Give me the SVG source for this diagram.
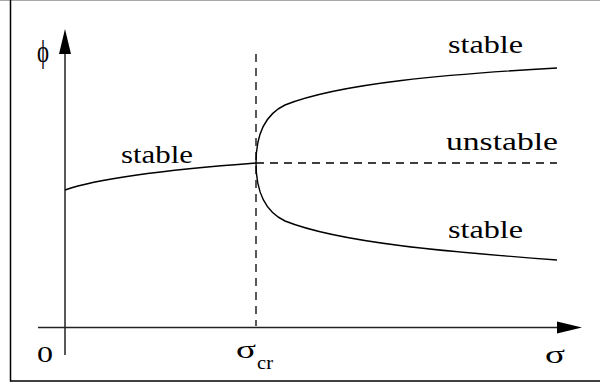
<svg xmlns="http://www.w3.org/2000/svg" width="600" height="383" viewBox="0 0 600 383">
<style>
.t{font-family:'Liberation Serif','Times New Roman','DejaVu Serif',serif;font-size:25px;fill:#000}
.ax{stroke:#222;stroke-width:1.5;fill:none}
.c{stroke:#000;stroke-width:1.4;fill:none}
.d{stroke:#000;stroke-width:1.3;fill:none;stroke-dasharray:8 6}
</style>
<rect x="0" y="0" width="600" height="383" fill="#fff"/>
<g id="frame">
<line x1="0" y1="0.5" x2="600" y2="0.5" stroke="#aaa" stroke-width="1"/>
<line x1="10.5" y1="0" x2="10.5" y2="381.5" stroke="#000" stroke-width="1.5"/>
<line x1="10" y1="381" x2="600" y2="381" stroke="#000" stroke-width="1.5"/>
</g>
<g id="axes">
<line class="ax" x1="65" y1="355" x2="65" y2="50"/>
<polygon points="65,29 59,54 71,54" fill="#000"/>
<line class="ax" x1="38" y1="327.5" x2="560" y2="327.5"/>
<polygon points="582,327.5 557,321.5 557,333.5" fill="#000"/>
</g>
<g id="connectors">
<line class="d" x1="256" y1="54" x2="256" y2="326"/>
<line class="d" x1="256" y1="163" x2="557" y2="163"/>
<path class="c" d="M65,190 Q110,174 256,163"/>
<path class="c" d="M256,163 C256,135 264,115 285,105 C340,83 450,74 557,68"/>
<path class="c" d="M256,163 C256,191 264,211 285,221 C340,243 450,252 557,260"/>
</g>
<g id="labels">
<text class="t" x="121" y="163" textLength="72" lengthAdjust="spacingAndGlyphs">stable</text>
<text class="t" x="448" y="53" textLength="75" lengthAdjust="spacingAndGlyphs">stable</text>
<text class="t" x="446" y="150" textLength="112" lengthAdjust="spacingAndGlyphs">unstable</text>
<text class="t" x="448" y="238" textLength="75" lengthAdjust="spacingAndGlyphs">stable</text>
<text class="t" x="37" y="62" style="font-size:31px" textLength="12" lengthAdjust="spacingAndGlyphs">ϕ</text>
<text class="t" x="37" y="362" style="font-size:23px" textLength="16" lengthAdjust="spacingAndGlyphs">0</text>
<text class="t" x="236" y="358" style="font-size:26px" textLength="20" lengthAdjust="spacingAndGlyphs">σ</text>
<text class="t" x="257" y="369" style="font-size:18px" textLength="16" lengthAdjust="spacingAndGlyphs">cr</text>
<text class="t" x="545" y="363" style="font-size:26px" textLength="20" lengthAdjust="spacingAndGlyphs">σ</text>
</g>
</svg>
